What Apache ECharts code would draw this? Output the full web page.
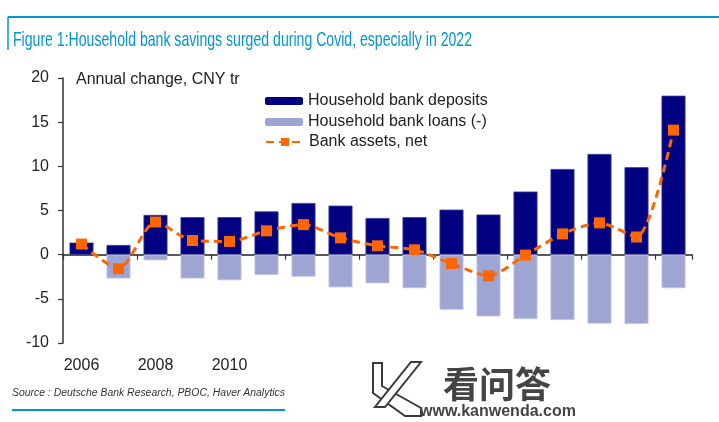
<!DOCTYPE html>
<html>
<head>
<meta charset="utf-8">
<script src="https://cdn.jsdelivr.net/npm/echarts@6/dist/echarts.min.js"></script>
<style>
html,body{margin:0;padding:0;background:#fff;}
#chart{width:719px;height:422px;}
</style>
</head>
<body>
<div id="chart"></div>
<script>
// ---- Data ----
const years = ['2006','2007','2008','2009','2010','2011','2012','2013','2014','2015','2016','2017','2018','2019','2020','2021','2022'];
const deposits = [1.4, 1.1, 4.5, 4.25, 4.25, 4.9, 5.85, 5.55, 4.15, 4.25, 5.1, 4.55, 7.15, 9.7, 11.4, 9.9, 18.0];
const loans = [0, -2.7, -0.65, -2.7, -2.9, -2.3, -2.5, -3.7, -3.25, -3.8, -6.25, -7.0, -7.3, -7.4, -7.8, -7.85, -3.8];
const netAssets = [1.2, -1.6, 3.7, 1.6, 1.5, 2.7, 3.4, 1.9, 1.0, 0.55, -1.0, -2.4, -0.05, 2.35, 3.6, 2.0, 14.1];
const xTickLabels = ['2006', '2008', '2010'];
const yTicks = {min: -10, max: 20, interval: 5};
const seriesNames = ['Household bank deposits', 'Household bank loans (-)', 'Bank assets, net'];
const titleText = 'Figure 1:Household bank savings surged during Covid, especially in 2022';
const unitText = 'Annual change, CNY tr';
const sourceText = 'Source : Deutsche Bank Research, PBOC, Haver Analytics';

const FONT = '"Liberation Sans", Arial, sans-serif';
const BLUE = '#0096D6';

function textScale(str, font, target) {
  const c = document.createElement('canvas').getContext('2d');
  c.font = font;
  const w = c.measureText(str).width;
  return w > 0 ? target / w : 1;
}
const titleScale = textScale(titleText, '21px "Liberation Sans"', 459);
const sourceScale = textScale(sourceText, 'italic 10px "Liberation Sans"', 273);

const chart = echarts.init(document.getElementById('chart'), null, {renderer: 'canvas'});

const option = {
  animation: false,
  backgroundColor: '#fff',
  textStyle: {fontFamily: FONT},
  grid: {left: 63, right: 27, top: 78, bottom: 79, containLabel: false},
  legend: [
    {
      data: [seriesNames[0], seriesNames[1]],
      orient: 'vertical', left: 265, top: 93, padding: 0,
      itemWidth: 38, itemHeight: 8, itemGap: 5,
      itemStyle: {borderWidth: 0},
      textStyle: {fontSize: 16, color: '#222', lineHeight: 16, fontFamily: FONT},
      selectedMode: false
    },
    {
      data: [seriesNames[2]],
      orient: 'vertical', left: 265, top: 134, padding: 0,
      itemWidth: 38, itemHeight: 10,
      textStyle: {fontSize: 16, color: '#222', lineHeight: 16, fontFamily: FONT},
      selectedMode: false
    }
  ],
  xAxis: [
    {
      type: 'category', data: years, position: 'bottom',
      axisLine: {show: false, onZero: false},
      axisTick: {show: false},
      axisLabel: {
        interval: 0, margin: 15, fontSize: 16, color: '#222', fontFamily: FONT,
        formatter: v => xTickLabels.indexOf(v) >= 0 ? v : ''
      }
    },
    {
      type: 'category', data: years, position: 'bottom',
      axisLine: {show: true, onZero: true, lineStyle: {color: '#222', width: 1.5}},
      axisTick: {show: true, interval: 1, length: 5, lineStyle: {color: '#333', width: 1.2}},
      axisLabel: {show: false}
    }
  ],
  yAxis: {
    type: 'value', min: yTicks.min, max: yTicks.max, interval: yTicks.interval,
    axisLine: {show: true, lineStyle: {color: '#333', width: 1.5}},
    axisTick: {show: true, length: 5, lineStyle: {color: '#333', width: 1.2}},
    splitLine: {show: false},
    axisLabel: {fontSize: 16, color: '#222', margin: 14, fontFamily: FONT}
  },
  series: [
    {
      name: seriesNames[0], type: 'bar', data: deposits, stack: 'bank', barWidth: 24,
      itemStyle: {color: '#000080', borderColor: '#3c3c9c', borderWidth: 0.8}
    },
    {
      name: seriesNames[1], type: 'bar', data: loans, stack: 'bank', barWidth: 24,
      itemStyle: {color: '#9EA5D3', borderColor: '#C6CAE8', borderWidth: 0.8}
    },
    {
      name: seriesNames[2], type: 'line', data: netAssets, smooth: 0.25,
      symbol: 'rect', symbolSize: 11,
      lineStyle: {color: '#FF6600', width: 3, type: [8, 5]},
      itemStyle: {color: '#FF6600'},
      z: 5
    }
  ],
  graphic: [
    {type: 'line', shape: {x1: 8, y1: 17, x2: 719, y2: 17}, style: {stroke: BLUE, lineWidth: 2}},
    {type: 'line', shape: {x1: 8, y1: 17, x2: 8, y2: 50}, style: {stroke: BLUE, lineWidth: 1.5}},
    {type: 'text', x: 13, y: 40, scaleX: titleScale,
     style: {text: titleText, fontSize: 21, fontFamily: FONT, fill: BLUE, verticalAlign: 'middle', align: 'left'}},
    {type: 'text', x: 76, y: 80,
     style: {text: unitText, fontSize: 16, fontFamily: FONT, fill: '#222', verticalAlign: 'middle', align: 'left'}},
    {type: 'text', x: 12, y: 393, scaleX: sourceScale,
     style: {text: sourceText, fontSize: 10, fontStyle: 'italic', fontFamily: FONT, fill: '#333', verticalAlign: 'middle', align: 'left'}},
    {type: 'line', shape: {x1: 12, y1: 410, x2: 285, y2: 410}, style: {stroke: BLUE, lineWidth: 2}},
    // watermark
    {type: 'polygon', shape: {points: [[373,363],[382,363],[382,386],[421,408],[421,416],[405,416],[373,393]]},
     style: {fill: '#fff', stroke: '#3a3a3a', lineWidth: 2}},
    {type: 'polygon', shape: {points: [[411,362],[421,362],[385,407],[375,407]]},
     style: {fill: '#fff', stroke: '#3a3a3a', lineWidth: 2}},
    {type: 'text', x: 443, y: 384,
     style: {text: '看问答', fontSize: 36, fontWeight: 'bold', fontFamily: '"Noto Sans CJK SC", sans-serif', fill: '#444', verticalAlign: 'middle', align: 'left'}},
    {type: 'text', x: 420, y: 412,
     style: {text: 'www.kanwenda.com', fontSize: 16, fontWeight: 'bold', fontFamily: FONT, fill: '#444', verticalAlign: 'middle', align: 'left'}}
  ]
};
chart.setOption(option);
</script>
</body>
</html>
